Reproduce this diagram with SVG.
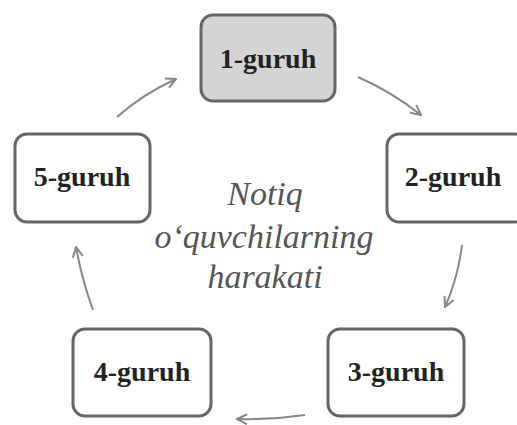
<svg xmlns="http://www.w3.org/2000/svg" width="517" height="425" viewBox="0 0 517 425">
<style>
.box{fill:#fff;stroke:#666;stroke-width:3}
.lbl{font-family:"Liberation Serif","DejaVu Serif",serif;font-weight:bold;font-size:28px;fill:#222;text-anchor:middle}
.mid{font-family:"Liberation Serif","DejaVu Serif",serif;font-style:italic;font-size:34px;fill:#555;text-anchor:middle}
.arr{fill:none;stroke:#888;stroke-width:2;marker-end:url(#ah)}
</style>
<defs>
<marker id="ah" viewBox="0 0 12 12" refX="11" refY="6" markerWidth="12" markerHeight="12" markerUnits="userSpaceOnUse" orient="auto">
<path d="M1,1 L11,6 L1,11" fill="none" stroke="#888" stroke-width="2"/>
</marker>
</defs>
<rect width="517" height="425" fill="#fff"/>
<g id="connectors">
<path class="arr" d="M117,117 Q143,94 176,79"/>
<path class="arr" d="M358,77 Q392,92 421,115"/>
<path class="arr" d="M462,245 Q458,278 445,307"/>
<path class="arr" d="M305,415 Q271,420 237,419"/>
<path class="arr" d="M93,310 Q82,280 76,247"/>
</g>
<g id="node1">
<rect class="box" x="201" y="15" width="134" height="86" rx="12" style="fill:#d4d4d4"/>
<text class="lbl" x="268" y="68">1-guruh</text>
</g>
<g id="node2">
<rect class="box" x="387" y="134" width="140" height="88" rx="12"/>
<text class="lbl" x="453" y="186">2-guruh</text>
</g>
<g id="node3">
<rect class="box" x="328" y="329" width="136" height="87" rx="12"/>
<text class="lbl" x="396" y="381">3-guruh</text>
</g>
<g id="node4">
<rect class="box" x="73" y="329" width="138" height="87" rx="12"/>
<text class="lbl" x="142" y="381">4-guruh</text>
</g>
<g id="node5">
<rect class="box" x="15" y="134" width="135" height="88" rx="12"/>
<text class="lbl" x="82" y="186">5-guruh</text>
</g>
<g id="center">
<text class="mid" x="265" y="205">Notiq</text>
<text class="mid" x="264" y="248">o‘quvchilarning</text>
<text class="mid" x="265" y="288">harakati</text>
</g>
</svg>
